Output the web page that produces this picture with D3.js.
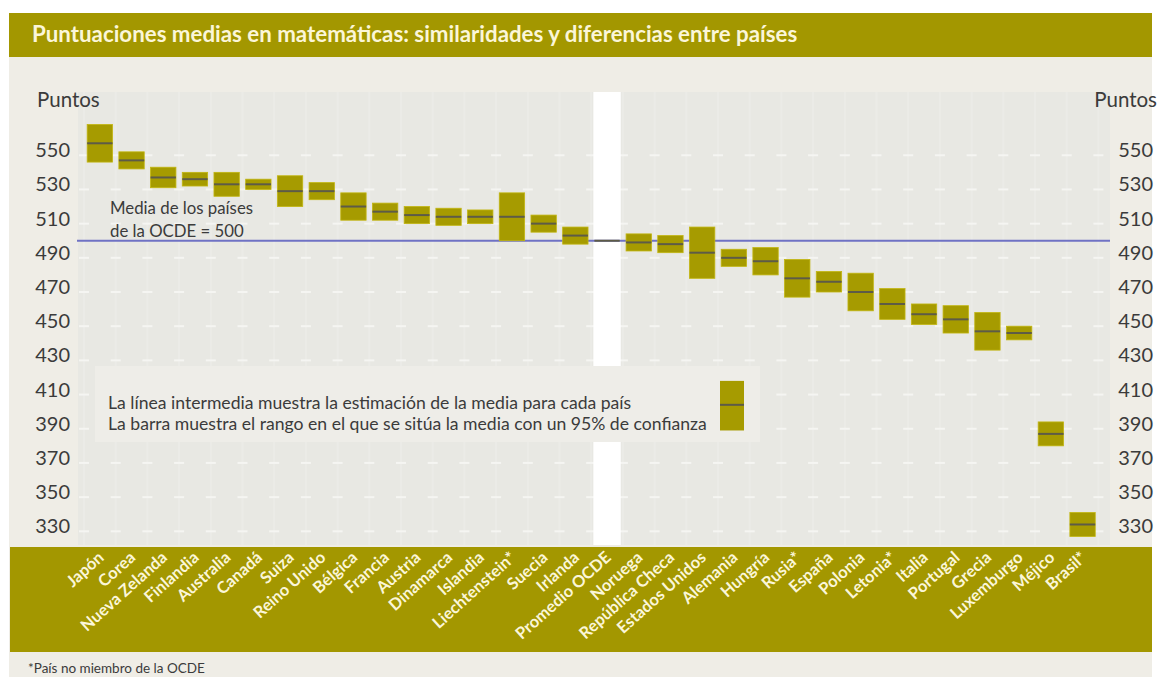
<!DOCTYPE html>
<html><head><meta charset="utf-8">
<script src="https://cdn.jsdelivr.net/npm/d3@7"></script>
<style>
html,body{margin:0;padding:0;background:#ffffff;}
svg{display:block;font-family:Lato,"Open Sans",sans-serif;}
</style></head>
<body>
<script>
const categories = ["Japón","Corea","Nueva Zelanda","Finlandia","Australia","Canadá","Suiza","Reino Unido","Bélgica","Francia","Austria","Dinamarca","Islandia","Liechtenstein*","Suecia","Irlanda","Promedio OCDE","Noruega","República Checa","Estados Unidos","Alemania","Hungría","Rusia*","España","Polonia","Letonia*","Italia","Portugal","Grecia","Luxemburgo","Méjico","Brasil*"];
const means = [557,547,537,536,533,533,529,529,520,517,515,514,514,514,510,503,500,499,498,493,490,488,478,476,470,463,457,454,447,446,387,334];
const lows  = [546,542,531,532,526,530,520,524,512,512,510,509,510,500,505,498,null,494,493,478,485,480,467,470,459,454,451,446,436,442,380,327];
const highs = [568,552,543,540,540,536,538,534,528,522,520,519,518,528,515,508,null,504,503,508,495,496,489,482,481,472,463,462,458,450,394,341];
const yTicks = [550,530,510,490,470,450,430,410,390,370,350,330];
const oecdMean = 500;
const title = "Puntuaciones medias en matemáticas: similaridades y diferencias entre países";

const W = 1160, H = 677;
const olive = "#a39700", barFill = "#a69b00", meanCol = "#5d5b47", textCol = "#3b3b3b", cream = "#fbf6d8";

const svg = d3.select("body").append("svg").attr("width", W).attr("height", H);

// panel backgrounds
svg.append("rect").attr("x",9).attr("y",13).attr("width",1143).attr("height",H-13).attr("fill","#efede6");
svg.append("rect").attr("x",9).attr("y",13).attr("width",1143).attr("height",44).attr("fill",olive);
svg.append("text").attr("x",32).attr("y",42).attr("fill",cream).attr("font-weight","bold").attr("font-size",22.3).text(title);

const x = d3.scaleBand().domain(categories).range([84, 1098.4]).paddingInner(0.2).paddingOuter(0.1);
const y = d3.scaleLinear().domain([322, 587]).range([545, 92]);
const step = x.step();

// plot area
svg.append("rect").attr("x",78).attr("y",92).attr("width",1032).attr("height",453).attr("fill","#e8e8e3");

// faint vertical stripes at band boundaries
const bounds = categories.map(c => x(c) - (step - x.bandwidth())/2).concat([x(categories[categories.length-1]) + x.bandwidth() + (step - x.bandwidth())/2]);
svg.append("g").selectAll("line").data(bounds).join("line")
  .attr("x1", d=>d).attr("x2", d=>d).attr("y1",92).attr("y2",545)
  .attr("stroke","#ebebe7").attr("stroke-width",2);

// dashed white grid marks at ticks
const gridG = svg.append("g");
yTicks.forEach(t => {
  gridG.selectAll(null).data(bounds).join("line")
    .attr("x1", d=>d-5).attr("x2", d=>d+5).attr("y1", y(t)).attr("y2", y(t))
    .attr("stroke","#f5f5f2").attr("stroke-width",2);
});

// OECD average white column
const oc = "Promedio OCDE";
svg.append("rect").attr("x", x(oc)-1).attr("y",92).attr("width", x.bandwidth()+2).attr("height",453).attr("fill","#ffffff");

// legend box
svg.append("rect").attr("x",95).attr("y",366).attr("width",665).attr("height",76).attr("fill","#eeede8");

// OECD mean line
svg.append("line").attr("x1",77).attr("x2",1110).attr("y1",y(oecdMean)).attr("y2",y(oecdMean))
  .attr("stroke","#6f72c4").attr("stroke-width",2);

// bars
const data = categories.map((c,i)=>({c, m:means[i], lo:lows[i], hi:highs[i]}));
svg.append("g").selectAll("rect").data(data.filter(d=>d.lo!==null)).join("rect")
  .attr("x", d=>x(d.c)).attr("width", x.bandwidth())
  .attr("y", d=>y(d.hi)).attr("height", d=>y(d.lo)-y(d.hi))
  .attr("fill", barFill).attr("stroke","#c2b610").attr("stroke-width",0.8);
svg.append("g").selectAll("line").data(data).join("line")
  .attr("x1", d=>x(d.c)).attr("x2", d=>x(d.c)+x.bandwidth())
  .attr("y1", d=>y(d.m)).attr("y2", d=>y(d.m))
  .attr("stroke", meanCol).attr("stroke-width",2);

// axes labels
const ax = svg.append("g").attr("font-size",20).attr("fill",textCol);
ax.selectAll(".l").data(yTicks).join("text").attr("class","l")
  .attr("x",70).attr("y", d=>y(d)-5).attr("dy","0.35em").attr("text-anchor","end").text(d=>d);
ax.selectAll(".r").data(yTicks).join("text").attr("class","r")
  .attr("x",1153).attr("y", d=>y(d)-5).attr("dy","0.35em").attr("text-anchor","end").text(d=>d);
svg.append("text").attr("x",37).attr("y",107).attr("font-size",20.5).attr("fill",textCol).text("Puntos");
svg.append("text").attr("x",1157).attr("y",107).attr("font-size",20.5).attr("fill",textCol).attr("text-anchor","end").text("Puntos");

// OECD annotation
const ann = svg.append("g").attr("font-size",16.8).attr("fill",textCol);
ann.append("text").attr("x",110).attr("y",214).text("Media de los países");
ann.append("text").attr("x",110).attr("y",237).text("de la OCDE = 500");

// legend
const lg = svg.append("g").attr("font-size",17.6).attr("fill",textCol);
lg.append("text").attr("x",108).attr("y",409).text("La línea intermedia muestra la estimación de la media para cada país");
lg.append("text").attr("x",108).attr("y",430).text("La barra muestra el rango en el que se sitúa la media con un 95% de confianza");
const lgx = d3.scaleLinear().domain([0,1]).range([720,744]);
svg.append("rect").attr("x",lgx(0)).attr("y",y(418)).attr("width",lgx(1)-lgx(0)).attr("height",y(389)-y(418)).attr("fill",barFill);
svg.append("line").attr("x1",lgx(0)).attr("x2",lgx(1)).attr("y1",y(404)).attr("y2",y(404)).attr("stroke",meanCol).attr("stroke-width",2);

// bottom olive band with category labels
svg.append("rect").attr("x",10).attr("y",547).attr("width",1142).attr("height",105).attr("fill",olive);
svg.append("g").selectAll("text").data(categories).join("text")
  .attr("transform", d=>`translate(${x(d)+x.bandwidth()/2+5},${559}) rotate(-42)`)
  .attr("text-anchor","end").attr("font-size",16.5).attr("font-weight","bold").attr("fill",cream)
  .text(d=>d);

// footnote
svg.append("text").attr("x",28).attr("y",673).attr("font-size",13.5).attr("fill",textCol).text("*País no miembro de la OCDE");
</script>
</body></html>
